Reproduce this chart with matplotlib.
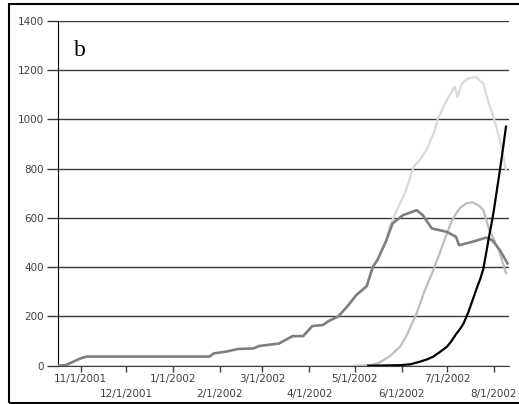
import pandas as pd
import matplotlib
matplotlib.use("Agg")
import matplotlib.pyplot as plt
from matplotlib.patches import Rectangle

# dark gray series (long history, peaks in June)
dark_dates = ["2001-10-17", "2001-10-22", "2001-10-27", "2001-11-01", "2001-11-05",
              "2002-01-25", "2002-01-28", "2002-02-05", "2002-02-13", "2002-02-23",
              "2002-02-27", "2002-03-12", "2002-03-21", "2002-03-28", "2002-04-03",
              "2002-04-10", "2002-04-14", "2002-04-20", "2002-04-26", "2002-05-02",
              "2002-05-09", "2002-05-13", "2002-05-16", "2002-05-22", "2002-05-26",
              "2002-06-02", "2002-06-11", "2002-06-15", "2002-06-21", "2002-07-01",
              "2002-07-07", "2002-07-09", "2002-07-18", "2002-07-27", "2002-07-31",
              "2002-08-05", "2002-08-10"]
dark_vals = [0, 2, 16, 30, 37,
             37, 50, 57, 68, 70,
             80, 90, 120, 120, 161,
             165, 182, 199, 239, 286,
             323, 401, 428, 509, 577,
             611, 631, 611, 557, 543,
             523, 489, 503, 520, 509,
             469, 415]

# very light series (peaks ~1170)
pale_dates = ["2002-04-26", "2002-05-02", "2002-05-09", "2002-05-13", "2002-05-16",
              "2002-05-22", "2002-05-24", "2002-05-30", "2002-06-04", "2002-06-09",
              "2002-06-13", "2002-06-18", "2002-06-23", "2002-06-25", "2002-07-01",
              "2002-07-06", "2002-07-08", "2002-07-11", "2002-07-15", "2002-07-20",
              "2002-07-25", "2002-07-28", "2002-08-01", "2002-08-05", "2002-08-09"]
pale_vals = [239, 286, 323, 401, 428,
             509, 564, 645, 713, 807,
             834, 882, 956, 1004, 1078,
             1132, 1091, 1146, 1166, 1172,
             1146, 1078, 1004, 916, 794]

# medium-light series (peaks ~665)
mid_dates = ["2002-05-01", "2002-05-08", "2002-05-13", "2002-05-18", "2002-05-24",
             "2002-05-31", "2002-06-04", "2002-06-08", "2002-06-11", "2002-06-16",
             "2002-06-22", "2002-06-27", "2002-07-01", "2002-07-04", "2002-07-07",
             "2002-07-10", "2002-07-14", "2002-07-18", "2002-07-22", "2002-07-25",
             "2002-07-29", "2002-08-02", "2002-08-05", "2002-08-09"]
mid_vals = [0, 1, 4, 15, 37,
            77, 118, 172, 213, 300,
            388, 470, 537, 585, 618,
            642, 659, 663, 650, 632,
            551, 500, 456, 375]

# black series (exponential rise at the end)
black_dates = ["2002-05-10", "2002-05-31", "2002-06-07", "2002-06-13", "2002-06-18",
               "2002-06-22", "2002-06-26", "2002-07-01", "2002-07-04", "2002-07-07",
               "2002-07-10", "2002-07-12", "2002-07-15", "2002-07-18", "2002-07-21",
               "2002-07-23", "2002-07-25", "2002-07-27", "2002-07-29", "2002-07-31",
               "2002-08-01", "2002-08-03", "2002-08-05", "2002-08-07", "2002-08-09"]
black_vals = [0, 2, 6, 16, 26,
              37, 54, 77, 100, 128,
              152, 172, 215, 267, 320,
              352, 392, 460, 530, 595,
              631, 713, 794, 880, 970]

tick_dates = ["2001-11-01", "2001-12-01", "2002-01-01", "2002-02-01", "2002-03-01",
              "2002-04-01", "2002-05-01", "2002-06-01", "2002-07-01", "2002-08-01"]
tick_labels = ["11/1/2001", "12/1/2001", "1/1/2002", "2/1/2002", "3/1/2002",
               "4/1/2002", "5/1/2002", "6/1/2002", "7/1/2002", "8/1/2002"]

fig = plt.figure(figsize=(5.19, 4.04), dpi=100)
ax = fig.add_axes([58 / 519, 38.3 / 404, 451 / 519, 345 / 404])

lw = 1.6
ax.plot(pd.to_datetime(pale_dates), pale_vals, color="#d9d9d9", lw=lw, zorder=2)
ax.plot(pd.to_datetime(mid_dates), mid_vals, color="#bdbdbd", lw=lw, zorder=3)
ax.plot(pd.to_datetime(dark_dates), dark_vals, color="#7f7f7f", lw=lw + 0.3, zorder=4)
ax.plot(pd.to_datetime(black_dates), black_vals, color="black", lw=lw, zorder=5)

ax.set_xlim(pd.Timestamp("2001-10-17"), pd.Timestamp("2002-08-11"))
ax.set_ylim(0, 1400)
ax.set_yticks(range(0, 1401, 200))
ax.yaxis.grid(True, color="#3a3a3a", lw=1.0)
ax.set_axisbelow(True)

# alternate the date labels on two rows
ax.set_xticks(pd.to_datetime(tick_dates))
ax.set_xticklabels(tick_labels, fontsize=7.5, color="#404040")
ax.tick_params(axis="x", length=4, width=1, color="#404040", pad=2)
for i, tick in enumerate(ax.xaxis.get_major_ticks()):
    if i % 2 == 1:
        tick.set_pad(13)
ax.tick_params(axis="y", length=8, width=1, color="#3a3a3a", labelsize=7.5,
               labelcolor="#404040", pad=2)

for s in ["top", "right"]:
    ax.spines[s].set_visible(False)
ax.spines["left"].set_color("black")
ax.spines["bottom"].set_color("#404040")

ax.text(0.035, 0.945, "b", transform=ax.transAxes, fontsize=17,
        family="Liberation Serif", va="top", ha="left")

fig.patches.append(Rectangle((9 / 519, 1 / 404), 520 / 519, 399 / 404,
                             transform=fig.transFigure, fill=False,
                             edgecolor="black", lw=1.5))

fig.savefig("out.png", dpi=100)
